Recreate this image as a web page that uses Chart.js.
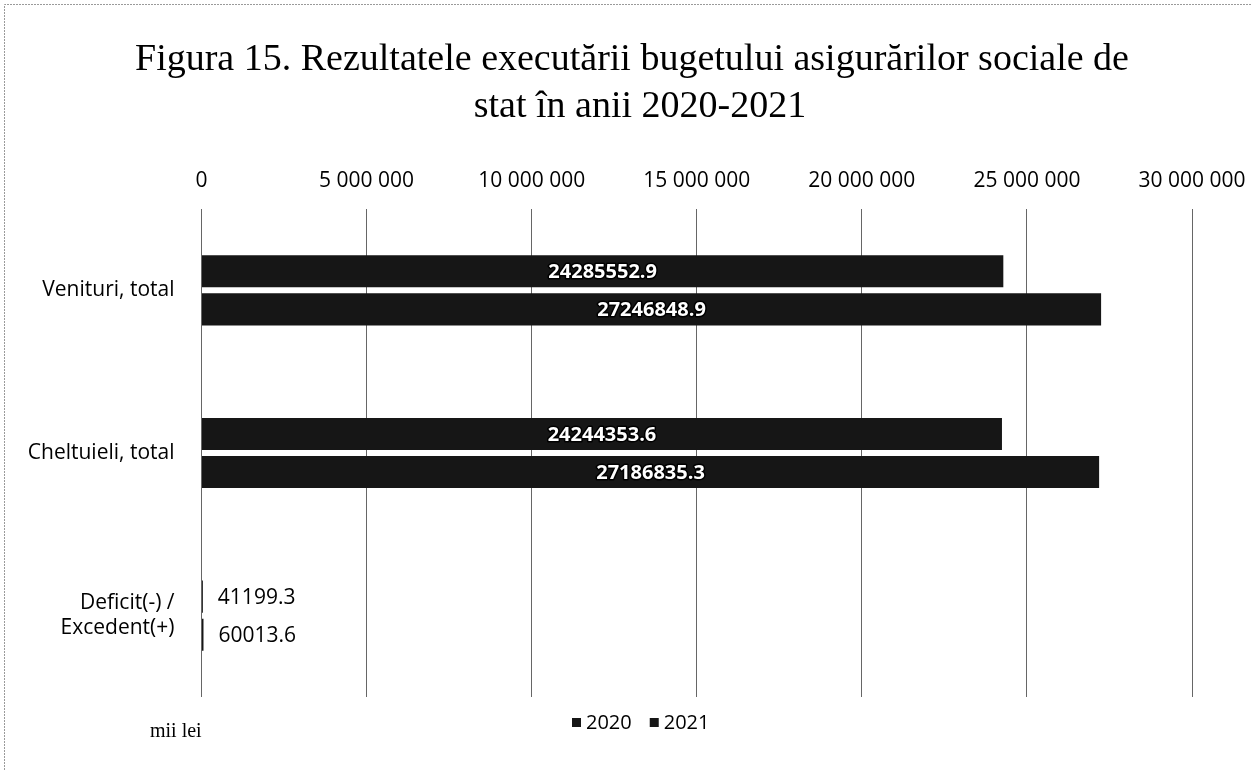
<!DOCTYPE html>
<html>
<head>
<meta charset="utf-8">
<script src="https://cdn.jsdelivr.net/npm/chart.js@4.4.1/dist/chart.umd.min.js"></script>
<style>
  html, body { margin: 0; padding: 0; background: #fff; }
  #wrap { width: 1251px; height: 770px; position: relative; }
</style>
</head>
<body>
<div id="wrap"><canvas id="budgetChart"></canvas></div>
<script>
const categories = ['Venituri, total', 'Cheltuieli, total', ['Deficit(-) /', 'Excedent(+)']]
const values2020 = [24285552.9, 24244353.6, 41199.3]
const values2021 = [27246848.9, 27186835.3, 60013.6]
const seriesNames = ['2020', '2021']
const xTicks = [0, 5000000, 10000000, 15000000, 20000000, 25000000, 30000000]
const titleLines = ['Figura 15. Rezultatele executării bugetului asigurărilor sociale de', 'stat în anii 2020-2021']
const unitText = 'mii lei'

const barColor = '#161616'
const sansFont = "'Open Sans', 'Liberation Sans', sans-serif"
const serifFont = "'Liberation Serif', 'DejaVu Serif', serif"

const fmtTick = (v) => String(v).replace(/\B(?=(\d{3})+(?!\d))/g, ' ')

// title, unit note, legend, frame and bar labels
const decorPlugin = {
    id: 'decor',
    afterDraw(chart) {
        const ctx = chart.ctx
        ctx.save()
        // scan frame
        ctx.strokeStyle = '#9a9a9a'
        ctx.lineWidth = 1
        ctx.setLineDash([2, 1])
        ctx.beginPath()
        ctx.moveTo(4.5, 770)
        ctx.lineTo(4.5, 4.5)
        ctx.lineTo(1251, 4.5)
        ctx.stroke()
        ctx.setLineDash([])

        ctx.fillStyle = '#000'
        ctx.textAlign = 'center'
        ctx.textBaseline = 'alphabetic'
        ctx.font = '38px ' + serifFont
        ctx.fillText(titleLines[0], 632, 70)
        ctx.fillText(titleLines[1], 640, 117)

        ctx.textAlign = 'left'
        ctx.font = '20px ' + serifFont
        ctx.fillText(unitText, 150, 737)

        // legend
        ctx.font = '20px ' + sansFont
        ctx.textBaseline = 'middle'
        let lx = 572
        chart.data.datasets.forEach((ds) => {
            ctx.fillStyle = ds.backgroundColor
            ctx.fillRect(lx, 718, 9, 9)
            ctx.fillStyle = '#000'
            ctx.fillText(ds.label, lx + 14, 723)
            lx += 14 + ctx.measureText(ds.label).width + 18
        })
        ctx.restore()
    },
    afterDatasetsDraw(chart) {
        const ctx = chart.ctx
        ctx.save()
        ctx.textBaseline = 'middle'
        chart.data.datasets.forEach((ds, di) => {
            const meta = chart.getDatasetMeta(di)
            meta.data.forEach((bar, i) => {
                const v = ds.data[i]
                const txt = v.toFixed(1)
                if (v > 1000000) {
                    ctx.font = 'bold 20px ' + sansFont
                    ctx.textAlign = 'center'
                    const cx = (bar.base + bar.x) / 2
                    ctx.lineJoin = 'round'
                    ctx.lineWidth = 3
                    ctx.strokeStyle = '#000'
                    ctx.strokeText(txt, cx, bar.y + 1)
                    ctx.fillStyle = '#fff'
                    ctx.fillText(txt, cx, bar.y + 1)
                } else {
                    ctx.font = '21px ' + sansFont
                    ctx.textAlign = 'left'
                    ctx.fillStyle = '#000'
                    ctx.fillText(txt, bar.x + 15, bar.y + 1)
                }
            })
        })
        ctx.restore()
    }
}

const ctl = document.getElementById('budgetChart')
window.newChart = new Chart(ctl, {
    type: 'bar',
    data: {
        labels: categories,
        datasets: [
            {
                label: seriesNames[0],
                data: values2020,
                backgroundColor: barColor,
                borderWidth: 0,
                categoryPercentage: 0.468,
                barPercentage: 0.842
            },
            {
                label: seriesNames[1],
                data: values2021,
                backgroundColor: barColor,
                borderWidth: 0,
                categoryPercentage: 0.468,
                barPercentage: 0.842
            }
        ]
    },
    options: {
        indexAxis: 'y',
        responsive: true,
        maintainAspectRatio: false,
        animation: false,
        layout: {
            padding: { top: 100, left: 0, right: 59, bottom: 73 }
        },
        plugins: {
            legend: { display: false },
            title: { display: false },
            tooltip: { enabled: false }
        },
        scales: {
            x: {
                position: 'top',
                min: 0,
                max: 30000000,
                afterBuildTicks: (scale) => {
                    scale.ticks = xTicks.map((v) => ({ value: v }))
                },
                afterFit: (scale) => {
                    scale.height = 109
                    scale.paddingLeft = 10
                    scale.paddingRight = 50
                },
                grid: { color: '#666', lineWidth: 1, drawTicks: false },
                border: { display: false },
                ticks: {
                    padding: 15,
                    color: '#000',
                    font: { family: sansFont, size: 21 },
                    callback: (v) => fmtTick(v)
                }
            },
            y: {
                afterFit: (scale) => { scale.width = 201.5 },
                grid: { display: false },
                border: { display: false },
                ticks: {
                    padding: 19,
                    color: '#000',
                    font: { family: sansFont, size: 21 }
                }
            }
        }
    },
    plugins: [decorPlugin]
})
</script>
</body>
</html>
